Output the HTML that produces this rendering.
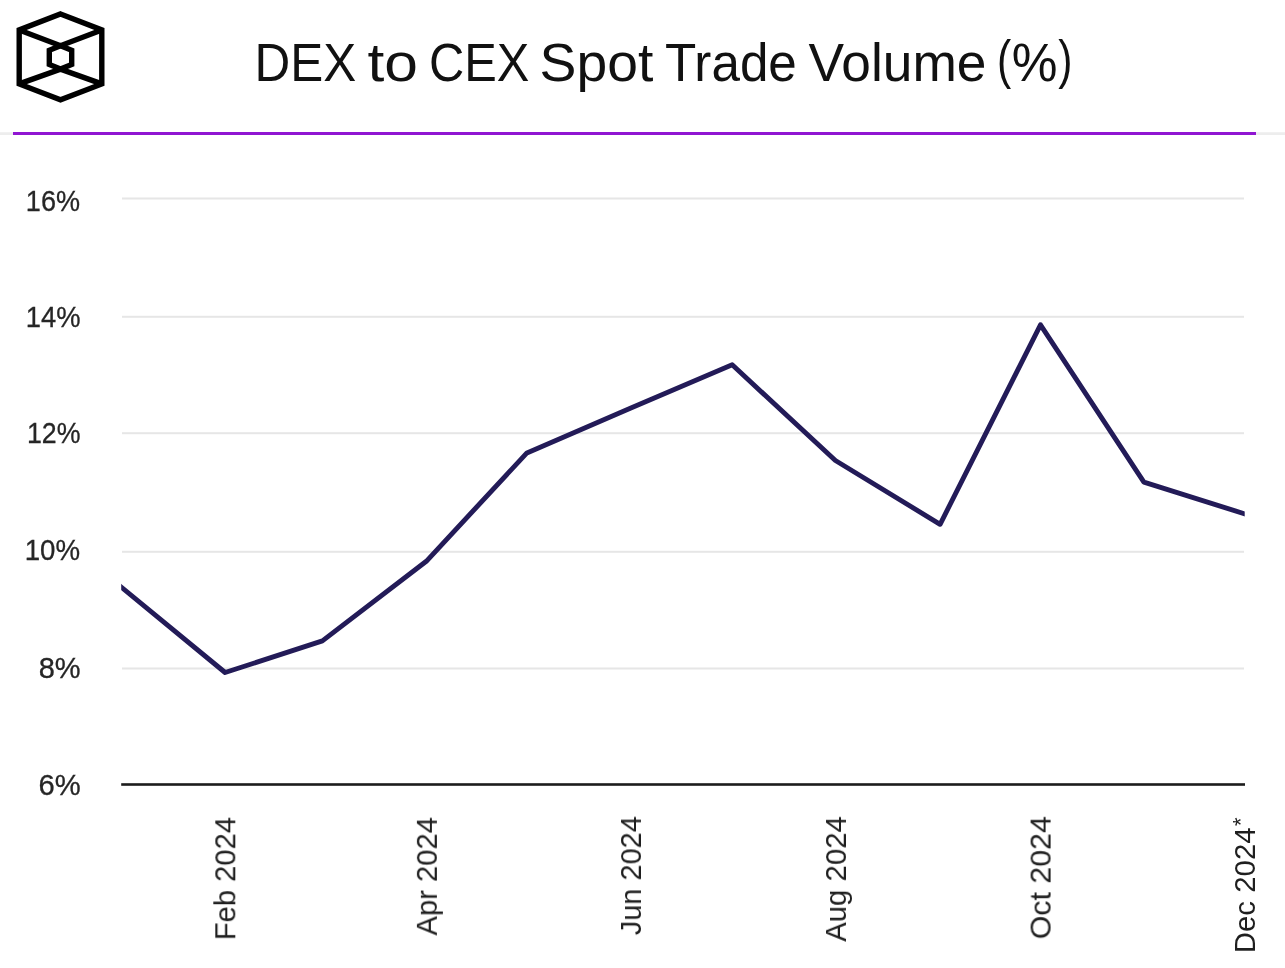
<!DOCTYPE html>
<html>
<head>
<meta charset="utf-8">
<style>
html,body{margin:0;padding:0;background:#fff;}
body{width:1285px;height:968px;overflow:hidden;}
svg{display:block;will-change:transform;}
.t{opacity:0.995;}
text{font-family:"Liberation Sans",sans-serif;}
</style>
</head>
<body>
<svg width="1285" height="968" viewBox="0 0 1285 968">
<rect x="0" y="0" width="1285" height="968" fill="#fff"/>
<!-- logo -->
<g fill="none" stroke="#000" stroke-width="5.4" stroke-linejoin="miter">
<polygon points="60.5,14 101.8,29.9 101.8,83.9 60.5,99.8 19.2,83.9 19.2,29.9"/>
<polygon points="60.5,45.7 71.7,50.3 71.7,64.5 60.5,69.1 49.3,64.5 49.3,50.3"/>
<polyline points="19.2,29.9 60.5,45.7 101.8,29.9"/>
<polyline points="19.2,83.9 60.5,69.1 101.8,83.9"/>
</g>
<!-- title -->
<g class="t" font-size="53.5" fill="#111">
<text transform="translate(254.6,81) scale(0.925,1)">DEX</text>
<text transform="translate(367.4,81) scale(1.131,1)">to</text>
<text transform="translate(429.1,81) scale(0.912,1)">CEX</text>
<text transform="translate(539.5,81) scale(1.034,1)">Spot</text>
<text transform="translate(665.0,81) scale(0.957,1)">Trade</text>
<text transform="translate(808.6,81) scale(0.997,1)">Volume</text>
<text transform="translate(997.1,78) scale(0.797,1)">(</text>
<text transform="translate(1011.8,81) scale(0.962,1)">%</text>
<text transform="translate(1058.2,78) scale(0.797,1)">)</text>
</g>
<!-- header rule -->
<rect x="0" y="132" width="1285" height="3" fill="#f1f1f1"/>
<rect x="0" y="133.5" width="1285" height="1" fill="#e9e9e9"/>
<rect x="13" y="132" width="1243" height="3" fill="#9016d2"/>
<!-- gridlines -->
<g fill="#e6e6e6">
<rect x="122" y="197.5" width="1122" height="2"/>
<rect x="122" y="315.8" width="1122" height="2"/>
<rect x="122" y="432.2" width="1122" height="2"/>
<rect x="122" y="550.8" width="1122" height="2"/>
<rect x="122" y="667.5" width="1122" height="2"/>
</g>
<rect x="121.2" y="783.2" width="1123.8" height="2.6" fill="#1c1c1c"/>
<!-- y labels -->
<g class="t" font-size="29" fill="#262626" stroke="#262626" stroke-width="0.3">
<text transform="translate(25.84,210.61) scale(0.934,1.008)">16%</text>
<text transform="translate(25.82,326.82) scale(0.943,1.020)">14%</text>
<text transform="translate(26.97,442.63) scale(0.923,1.002)">12%</text>
<text transform="translate(24.70,559.76) scale(0.954,1.013)">10%</text>
<text transform="translate(38.65,677.61) scale(1.001,1.008)">8%</text>
<text transform="translate(38.41,794.51) scale(1.007,1.008)">6%</text>
</g>
<!-- x labels -->
<g class="t" font-size="29" fill="#1e1e1e">
<text transform="translate(235.30,940.19) rotate(-90) scale(1.006,1)">Feb 2024</text>
<text transform="translate(436.90,935.56) rotate(-90) scale(1.008,1)">Apr 2024</text>
<text transform="translate(641.00,935.16) rotate(-90) scale(0.997,1)">Jun 2024</text>
<text transform="translate(846.00,941.76) rotate(-90) scale(1.012,1)">Aug 2024</text>
<text transform="translate(1050.60,939.23) rotate(-90) scale(1.046,1)">Oct 2024</text>
<text transform="translate(1255.30,953.21) rotate(-90) scale(1.014,1)">Dec 2024</text>
<text font-size="21.8" transform="translate(1248.0,826.05) rotate(-90)">*</text>
</g>
<!-- data line -->
<defs><clipPath id="pc"><rect x="121.2" y="150" width="1123.5" height="640"/></clipPath></defs>
<polyline clip-path="url(#pc)" fill="none" stroke="#231b58" stroke-width="4.9" stroke-linejoin="round" stroke-linecap="square"
 points="121.2,587.1 225.1,672.5 322.4,640.9 426.3,561.3 526.9,452.9 630.9,408.0 732.2,364.8 835.4,460.5 940.1,524.3 1040.5,324.8 1143.9,482.1 1244.5,513.8"/>
</svg>
</body>
</html>
